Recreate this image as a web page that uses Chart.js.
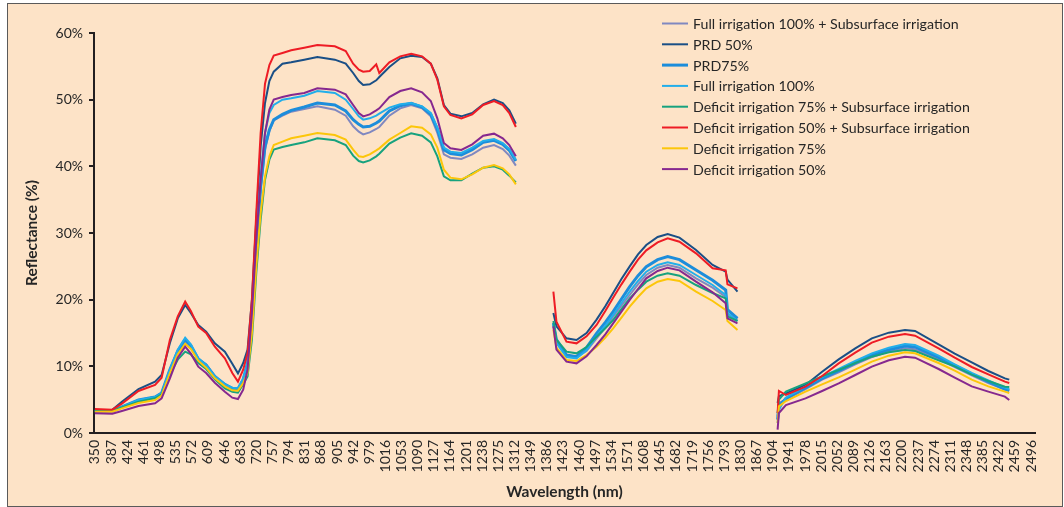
<!DOCTYPE html>
<html>
<head>
<meta charset="utf-8">
<script src="https://cdn.jsdelivr.net/npm/chart.js@4.4.1/dist/chart.umd.min.js"></script>
<style>
html, body { margin: 0; padding: 0; background: #fff; }
#box { position: absolute; left: 7px; top: 3px; width: 1054px; height: 502px; border: 1px solid #5a5a5a; background: #fde3c7; }
</style>
</head>
<body>
<div id="box"><canvas id="spectra" width="1054" height="502"></canvas></div>
<script>
// wavelengths (nm); null rows are the water absorption gaps
const wavelengths = [
  350, 390, 412, 450, 488, 503, 522, 540, 557, 570, 587, 605, 625, 648, 665, 678,
  690, 700, 710, 720, 730, 740, 750, 760,
  780, 800, 830, 860, 900, 925, 942, 955, 965, 980, 995, 1002,
  1025, 1050, 1075, 1100, 1120, 1135, 1150, 1165, 1190, 1215, 1240, 1265, 1285, 1300, 1315,
  1360,
  1401, 1408, 1431, 1454, 1477, 1500, 1520, 1538, 1557, 1576, 1595, 1614, 1640, 1663, 1690, 1728, 1766, 1796, 1800, 1823,
  1870,
  1915, 1918, 1934, 1979, 2017, 2055, 2093, 2131, 2170, 2207, 2230, 2284, 2321, 2360, 2398, 2436, 2446
];

const xTickLabels = [350, 387, 424, 461, 498, 535, 572, 609, 646, 683, 720, 757, 794, 831, 868, 905, 942, 979,
  1016, 1053, 1090, 1127, 1164, 1201, 1238, 1275, 1312, 1349, 1386, 1423, 1460, 1497, 1534, 1571, 1608, 1645,
  1682, 1719, 1756, 1793, 1830, 1867, 1904, 1941, 1978, 2015, 2052, 2089, 2126, 2163, 2200, 2237, 2274, 2311,
  2348, 2385, 2422, 2459, 2496];

const fullSub = [
  3.3, 3.3, 3.9, 4.9, 5.4, 6.0, 9.3, 12.1, 13.7, 12.9, 11.0, 10.3, 8.45, 7.3, 6.6, 6.5,
  8.0, 10.0, 17.0, 27.5, 36.5, 42.5, 45.3, 46.9,
  47.6, 48.2, 48.6, 49.0, 48.5, 47.6, 46.0, 45.2, 44.8, 45.1, 45.6, 45.9,
  47.6, 48.7, 49.2, 48.7, 47.5, 45.0, 41.8, 41.3, 41.1, 41.8, 42.8, 43.2, 42.6, 41.6, 40.1,
  null,
  16.2, 13.6, 11.6, 11.4, 12.3, 14.2, 15.8, 17.45, 19.1, 20.7, 22.3, 23.7, 24.8, 25.2, 24.8, 23.2, 21.8, 20.4, 17.8, 17.0,
  null,
  2.5, 4.5, 5.0, 6.6, 8.0, 9.1, 10.3, 11.4, 12.2, 12.7, 12.55, 11.1, 9.9, 8.65, 7.5, 6.5, 6.3
];
const prd50 = [
  3.4, 3.5, 4.7, 6.6, 7.7, 8.7, 13.5, 17.2, 19.2, 18.0, 16.2, 15.2, 13.45, 12.2, 10.4, 8.95,
  10.5, 12.5, 20.0, 32.0, 43.0, 49.5, 52.8, 54.2,
  55.4, 55.6, 56.0, 56.4, 56.0, 55.4, 54.0, 52.8, 52.2, 52.3, 52.9, 53.4,
  54.9, 56.2, 56.6, 56.4, 55.4, 53.2, 49.2, 47.9, 47.5, 48.0, 49.3, 50.0, 49.5, 48.4, 46.4,
  null,
  18.0, 16.0, 14.2, 13.95, 15.0, 17.0, 19.0, 21.0, 23.1, 25.0, 26.8, 28.2, 29.4, 29.85, 29.3, 27.45, 25.2, 24.2, 23.0, 21.2,
  null,
  4.5, 5.5, 5.95, 7.2, 9.2, 11.05, 12.7, 14.2, 15.05, 15.45, 15.3, 13.3, 11.9, 10.6, 9.3, 8.2, 8.0
];
const prd75 = [
  3.3, 3.3, 3.9, 4.95, 5.4, 6.0, 9.5, 12.3, 14.0, 13.1, 11.1, 10.2, 8.5, 7.3, 6.7, 6.6,
  8.0, 10.5, 17.5, 28.0, 37.0, 43.0, 45.5, 47.0,
  47.8, 48.4, 48.9, 49.5, 49.2, 48.3, 47.0, 46.3, 45.9, 46.0, 46.5, 46.8,
  48.3, 49.1, 49.45, 48.9, 47.8, 45.6, 42.5, 41.9, 41.7, 42.5, 43.6, 43.9, 43.3, 42.4, 40.8,
  null,
  16.5, 14.0, 11.7, 11.45, 12.8, 14.95, 16.6, 18.2, 20.1, 21.95, 23.6, 24.95, 26.0, 26.45, 26.0, 24.45, 22.9, 21.45, 18.5, 17.2,
  null,
  2.0, 4.0, 5.2, 6.8, 8.2, 9.35, 10.5, 11.7, 12.5, 13.05, 12.9, 11.35, 10.1, 8.85, 7.7, 6.6, 6.4
];
const full100 = [
  3.3, 3.3, 3.9, 4.95, 5.4, 6.0, 9.5, 12.5, 14.3, 13.3, 11.2, 10.2, 8.5, 7.3, 6.8, 6.7,
  8.2, 10.5, 18.0, 29.0, 38.5, 45.0, 48.0, 49.2,
  50.0, 50.2, 50.6, 51.3, 51.0, 50.0, 48.6, 47.5, 47.0, 47.2, 47.6, 47.9,
  48.8, 49.3, 49.5, 49.0, 48.0, 45.8, 42.8, 42.2, 42.0, 42.8, 43.8, 44.1, 43.5, 42.6, 41.0,
  null,
  16.3, 13.5, 11.4, 11.2, 12.4, 14.5, 16.1, 17.7, 19.5, 21.2, 22.8, 24.2, 25.2, 25.6, 25.2, 23.7, 22.2, 20.7, 18.0, 16.8,
  null,
  1.5, 3.5, 5.3, 7.0, 8.4, 9.6, 10.8, 11.95, 12.8, 13.35, 13.2, 11.6, 10.3, 9.0, 7.9, 6.8, 6.6
];
const def75Sub = [
  3.4, 3.3, 3.85, 4.7, 5.2, 5.8, 8.8, 11.0, 12.2, 11.8, 10.5, 9.6, 8.05, 6.7, 6.2, 6.05,
  7.3, 8.5, 14.0, 24.0, 32.0, 38.0, 41.0, 42.5,
  42.9, 43.2, 43.6, 44.2, 43.9, 43.2, 41.6, 40.8, 40.6, 40.9, 41.5, 41.9,
  43.4, 44.3, 44.95, 44.6, 43.6, 41.5, 38.5, 37.9, 37.9, 38.9, 39.8, 40.0, 39.5, 38.6, 37.6,
  null,
  16.8, 14.0, 12.2, 11.95, 12.9, 14.45, 15.7, 16.95, 18.6, 20.2, 21.5, 22.7, 23.6, 23.95, 23.6, 22.2, 21.0, 20.2, 17.5, 16.8,
  null,
  3.0, 5.0, 6.2, 7.45, 8.5, 9.45, 10.5, 11.45, 12.1, 12.45, 12.3, 10.9, 10.0, 8.75, 7.8, 6.95, 6.9
];
const def50Sub = [
  3.6, 3.5, 4.4, 6.3, 7.2, 8.3, 14.0, 17.5, 19.7, 18.3, 15.95, 15.0, 12.95, 11.2, 9.0, 7.7,
  9.5, 12.0, 20.0, 33.0, 45.0, 52.4, 55.2, 56.6,
  57.0, 57.4, 57.8, 58.2, 58.0, 57.3, 55.4, 54.5, 54.2, 54.3, 55.3, 54.0,
  55.6, 56.5, 56.9, 56.5, 55.4, 53.0, 49.0, 47.7, 47.2, 47.8, 49.2, 49.8, 49.2, 48.0, 45.9,
  null,
  21.2, 16.7, 13.7, 13.45, 14.5, 16.2, 18.3, 20.3, 22.3, 24.2, 26.0, 27.4, 28.6, 29.2, 28.7, 26.95, 24.7, 24.4, 22.3, 21.7,
  null,
  3.0, 6.3, 5.7, 6.95, 8.55, 10.45, 12.05, 13.55, 14.45, 14.85, 14.6, 12.7, 11.3, 9.9, 8.8, 7.7, 7.5
];
const def75 = [
  3.2, 3.2, 3.7, 4.5, 4.95, 5.6, 9.0, 11.8, 13.4, 12.6, 10.85, 9.8, 8.2, 7.0, 6.4, 6.35,
  7.5, 9.0, 15.0, 25.0, 33.0, 38.5, 41.5, 43.2,
  43.7, 44.2, 44.6, 45.0, 44.7, 44.0, 42.5, 41.5, 41.4, 41.8, 42.4, 42.7,
  44.0, 45.0, 46.0, 45.8, 44.8, 42.8, 39.5, 38.3, 38.05, 38.8, 39.8, 40.2, 39.7, 38.8, 37.3,
  null,
  15.5, 12.8, 10.95, 10.8, 11.7, 12.95, 14.3, 15.7, 17.3, 18.95, 20.4, 21.7, 22.7, 23.1, 22.8, 21.2, 19.8, 18.45, 16.8, 15.45,
  null,
  1.5, 4.0, 4.8, 6.2, 7.3, 8.35, 9.5, 10.7, 11.6, 12.1, 11.95, 10.5, 9.35, 8.0, 7.0, 6.2, 6.0
];
const def50 = [
  2.95, 2.9, 3.3, 4.05, 4.45, 5.2, 8.2, 11.3, 12.95, 11.9, 9.95, 9.0, 7.55, 6.2, 5.3, 5.1,
  6.5, 9.5, 18.0, 29.0, 38.0, 45.0, 48.5, 50.0,
  50.4, 50.7, 51.0, 51.7, 51.5, 50.8, 49.2, 48.0, 47.5, 47.8, 48.4, 48.7,
  50.4, 51.3, 51.7, 51.1, 49.8, 47.2, 43.5, 42.7, 42.45, 43.3, 44.6, 44.9, 44.2, 43.2, 41.5,
  null,
  16.0, 12.5, 10.7, 10.45, 11.5, 13.2, 14.8, 16.45, 18.2, 19.95, 21.6, 23.2, 24.3, 24.8, 24.4, 22.7, 21.1, 19.45, 17.2, 16.45,
  null,
  0.5, 3.0, 4.2, 5.2, 6.3, 7.45, 8.7, 9.95, 10.9, 11.45, 11.3, 9.6, 8.3, 7.0, 6.2, 5.45, 4.95
];

const seriesNames = [
  'Full irrigation 100% + Subsurface irrigation',
  'PRD 50%',
  'PRD75%',
  'Full irrigation 100%',
  'Deficit irrigation 75% + Subsurface irrigation',
  'Deficit irrigation 50% + Subsurface irrigation',
  'Deficit irrigation 75%',
  'Deficit irrigation 50%'
];
const seriesValues = [fullSub, prd50, prd75, full100, def75Sub, def50Sub, def75, def50];
const seriesColors = ['#8088c0', '#1a4f86', '#1c8ddb', '#22aeea', '#17a27e', '#ee1c25', '#fcc60a', '#86288f'];
const seriesWidths = [2, 2, 3, 2, 2, 2, 2, 2];

const FONT = 'Lato';
const TEXT = '#262626';

const datasets = seriesValues.map((vals, i) => ({
  label: seriesNames[i],
  data: wavelengths.map((w, j) => ({ x: w, y: vals[j] })),
  borderColor: seriesColors[i],
  backgroundColor: seriesColors[i],
  borderWidth: seriesWidths[i],
  pointRadius: 0,
  tension: 0,
  spanGaps: false,
  order: seriesValues.length - i
}));

// legend drawn at the top right, inside the frame
const sideLegend = {
  id: 'sideLegend',
  afterDraw(chart) {
    const ctx = chart.ctx;
    ctx.save();
    ctx.font = '14.2px ' + FONT;
    ctx.textBaseline = 'middle';
    ctx.fillStyle = TEXT;
    chart.data.datasets.forEach((ds, i) => {
      const y = 19.5 + i * 20.8;
      ctx.strokeStyle = ds.borderColor;
      ctx.lineWidth = ds.borderWidth;
      ctx.beginPath();
      ctx.moveTo(654, y);
      ctx.lineTo(680, y);
      ctx.stroke();
      ctx.fillText(ds.label, 685, y + 1);
    });
    ctx.restore();
  }
};

new Chart(document.getElementById('spectra'), {
  type: 'line',
  data: { datasets: datasets },
  plugins: [sideLegend],
  options: {
    responsive: false,
    animation: false,
    layout: { padding: { left: 0, top: 29, right: 27, bottom: 0 } },
    plugins: { legend: { display: false }, tooltip: { enabled: false } },
    scales: {
      x: {
        type: 'linear',
        min: 348,
        max: 2505,
        afterBuildTicks: scale => { scale.ticks = xTickLabels.map(v => ({ value: v })); },
        afterFit: scale => { scale.height = 73; },
        grid: { display: false, drawTicks: false },
        border: { display: true, color: '#231f20', width: 2 },
        ticks: {
          autoSkip: false, minRotation: 90, maxRotation: 90, padding: 7,
          color: TEXT, font: { family: FONT, size: 14 },
          callback: v => String(v)
        },
        title: {
          display: true, text: 'Wavelength (nm)', color: TEXT,
          font: { family: FONT, size: 15.5, weight: 'bold' },
          padding: { top: 0, bottom: 5 }
        }
      },
      y: {
        min: 0,
        max: 60,
        afterFit: scale => { scale.width = 86; },
        grid: { drawOnChartArea: false, drawTicks: true, tickLength: 5, color: '#231f20', lineWidth: 2 },
        border: { display: true, color: '#231f20', width: 2 },
        ticks: {
          stepSize: 10, padding: 6, color: TEXT,
          font: { family: FONT, size: 14 },
          callback: v => v + '%'
        },
        title: {
          display: true, text: 'Reflectance (%)', color: TEXT,
          font: { family: FONT, size: 15.5, weight: 'bold' },
          padding: { top: 15, bottom: 0 }
        }
      }
    }
  }
});
</script>
</body>
</html>
